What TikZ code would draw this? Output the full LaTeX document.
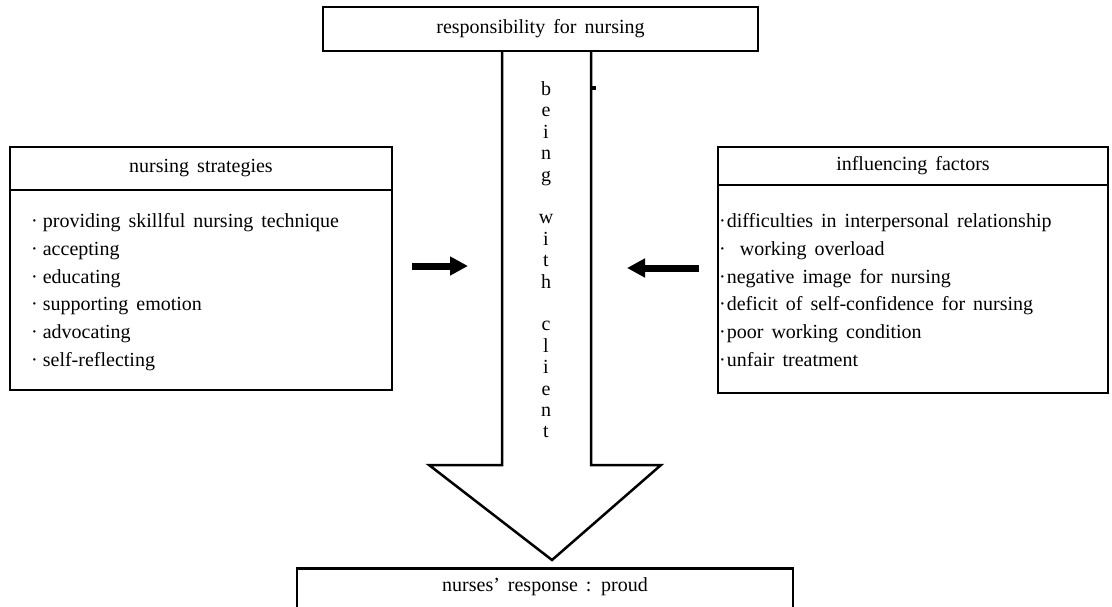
\documentclass[tikz,border=0pt]{standalone}
\usepackage{fontspec}
\setmainfont{Liberation Serif}[WordSpace=1.6]
\usetikzlibrary{arrows.meta}
\begin{document}
\begin{tikzpicture}[x=1pt,y=-1pt,line join=miter,
  box/.style={draw,line width=2.5pt,inner sep=0pt},
  txt/.style={font=\fontsize{20}{24}\selectfont,inner sep=0pt},
  item/.style={txt,anchor=base west},
  rule/.style={line width=2.5pt},
  pointer/.style={line width=7pt,-{Triangle[length=18pt,width=18pt]}}]
\clip (0,0) rectangle (1112,607);
\fill[white] (0,0) rectangle (1112,607);
% big arrow
\draw[rule,fill=white] (502,51) -- (502,465) -- (429,465) -- (552,560) -- (661,465) -- (591,465) -- (591,51);
\fill (591,86) rectangle (596,90);
% top box
\node[box,txt,minimum width=435pt,minimum height=44pt] (top) at (540.5,29) {responsibility for nursing};
% vertical text
\node[inner sep=0pt,anchor=north,align=center,font=\fontsize{20}{21.4}\selectfont] (bwc) at (546,81.5)
  {b\\e\\i\\n\\g\\\mbox{}\\w\\i\\t\\h\\\mbox{}\\c\\l\\i\\e\\n\\t};
% left box
\node[box,minimum width=382pt,minimum height=243pt] (strat) at (201,268.5) {};
\draw[rule] (strat.west |- 0,190) -- (strat.east |- 0,190);
\node[txt] (stratT) at (201,168) {nursing strategies};
\foreach \t [count=\i] in {providing skillful nursing technique,accepting,educating,supporting emotion,advocating,self-reflecting}
  \node[item] (s\i) at (31,{228+27.6*(\i-1)}) {·\hspace{5pt}\t};
% right box
\node[box,minimum width=390pt,minimum height=246pt] (fact) at (913,270) {};
\draw[rule] (fact.west |- 0,185) -- (fact.east |- 0,185);
\node[txt] (factT) at (913,166) {influencing factors};
\foreach \t [count=\i] in {\hspace{1pt}difficulties in interpersonal relationship,\hspace{14pt}working overload,\hspace{1pt}negative image for nursing,\hspace{1pt}deficit of self-confidence for nursing,\hspace{1pt}poor working condition,\hspace{1pt}unfair treatment}
  \node[item] (f\i) at (719,{228+27.6*(\i-1)}) {·\t};
% pointers
\coordinate (pa) at (412,266);
\coordinate (pb) at (468,266);
\draw[pointer] (pa) -- (pb);
\coordinate (qa) at (699,268);
\coordinate (qb) at (627,268);
\draw[pointer] (qa) -- (qb);
% bottom box
\node[box,minimum width=496pt,minimum height=80pt,anchor=north] (resp) at (545,567) {};
\node[txt,anchor=base] (respT) at (545,591) {nurses’ response : proud};
\end{tikzpicture}
\end{document}
